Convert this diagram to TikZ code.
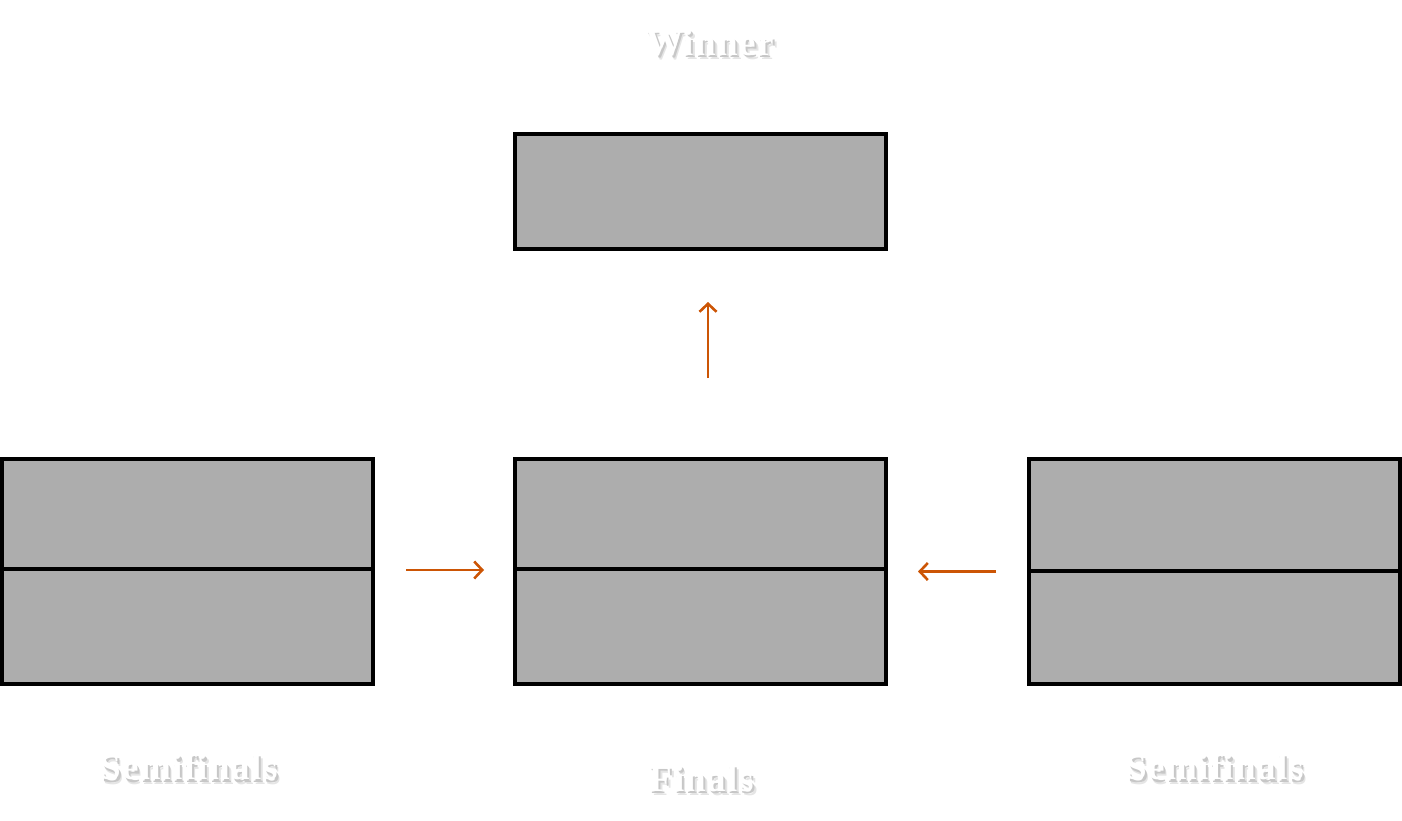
\documentclass[tikz,border=0pt]{standalone}
\usepackage{fontspec}
\newfontfamily\stagefont[LetterSpace=4]{Liberation Serif}
\usetikzlibrary{arrows.meta}
\definecolor{slotgray}{RGB}{173,173,173}
\definecolor{advorange}{RGB}{204,85,5}
\newcommand{\shadowed}[1]{%
	\rlap{\kern3.5pt\raisebox{-4.5pt}{\textcolor{black!10}{#1}}}%
	\rlap{\kern2pt\raisebox{-2.5pt}{\textcolor{black!22}{#1}}}%
	#1}
\begin{document}
\begin{tikzpicture}[x=1pt,y=-1pt,
	slot/.style={draw=black,line width=4pt,fill=slotgray,inner sep=0pt,minimum width=371pt},
	adv/.style={draw=advorange,line width=2.8pt,-{Straight Barb[length=8pt,width=17pt,line width=2.6pt]}},
	stagetxt/.style={font=\stagefont\fontsize{37}{37}\bfseries,text=white}]
	\useasboundingbox (0,0) rectangle (1402,821);
	
	\node[slot,minimum height=115pt] (winner) at (700.5,191.5) {};
	\node[slot,minimum height=225pt] (semiL) at (187.5,571.5) {};
	\node[slot,minimum height=225pt] (final) at (700.5,571.5) {};
	\node[slot,minimum height=225pt] (semiR) at (1214.5,571.5) {};
	
	% split lines
	\draw[line width=4pt] ([yshift=3pt]semiL.west) -- ([yshift=3pt]semiL.east);
	\draw[line width=4pt] ([yshift=3pt]final.west) -- ([yshift=3pt]final.east);
	\draw[line width=4pt] ([yshift=1pt]semiR.west) -- ([yshift=1pt]semiR.east);
	
	\draw[adv,shorten <=31pt,shorten >=29pt] ([yshift=1.5pt]semiL.east) -- ([yshift=1.5pt]final.west);
	\draw[adv,shorten <=31pt,shorten >=30pt] (semiR.west) -- (final.east);
	\draw[adv,shorten <=79pt,shorten >=51pt] ([xshift=7.5pt]final.north) -- ([xshift=7.5pt]winner.south);
	
	\node[stagetxt] (lwin) at (710,45) {\shadowed{Winner}};
	\node[stagetxt] (lsemiL) at (189,769) {\shadowed{Semifinals}};
	\node[stagetxt] (lfinal) at (702,781) {\shadowed{Finals}};
	\node[stagetxt] (lsemiR) at (1215,769) {\shadowed{Semifinals}};
\end{tikzpicture}
\end{document}
